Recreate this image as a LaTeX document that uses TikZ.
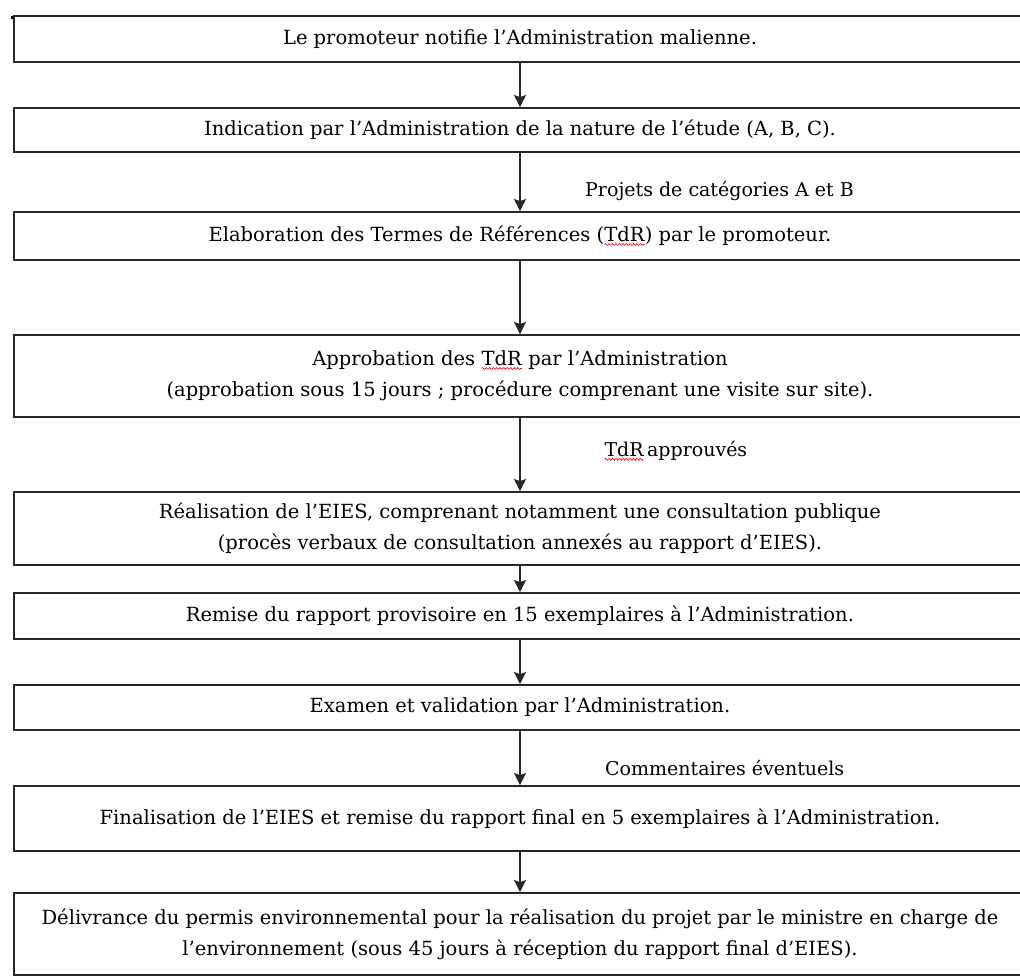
\documentclass[tikz,border=0pt]{standalone}
\usepackage{fontspec}
\setmainfont{DejaVu Serif}
\usetikzlibrary{arrows.meta,decorations.pathmorphing}
% abbreviation flagged with a red wavy underline
\newcommand\flagged[1]{\tikz[baseline=(fw.base)]{%
  \node[inner sep=0pt, outer sep=0pt, minimum width=0pt, minimum height=0pt, draw=none] (fw) {#1};
  \draw[red, line width=0.6pt, decorate, decoration={snake, amplitude=1pt, segment length=3.5pt}]
    ([yshift=-2.5pt]fw.south west) -- ([yshift=-2.5pt]fw.south east);}}
\begin{document}
\begin{tikzpicture}[x=1pt, y=-1pt,
  stepbox/.style={draw=black!85, line width=1.9pt, minimum width=1012pt, inner sep=0pt,
    align=center, text=black, font=\fontsize{19.5}{31}\selectfont},
  flow/.style={draw=black!85, line width=1.4pt, -{Stealth[length=12pt, width=12pt, inset=2pt]}},
  note/.style={anchor=west, inner sep=0pt, text=black, font=\fontsize{19}{22}\selectfont}]
\useasboundingbox (0,0) rectangle (1020,976);
\clip (0,0) rectangle (1020,976);

% process steps
\node[stepbox, minimum height=46pt] (s1) at (520,39)
  {Le promoteur notifie l’Administration malienne.};
\node[stepbox, minimum height=44pt] (s2) at (520,130)
  {Indication par l’Administration de la nature de l’étude (A, B, C).};
\node[stepbox, minimum height=48pt] (s3) at (520,236)
  {Elaboration des Termes de Références (\flagged{TdR}) par le promoteur.};
\node[stepbox, minimum height=82pt] (s4) at (520,376)
  {Approbation des \flagged{TdR} par l’Administration\\
   (approbation sous 15 jours ; procédure comprenant une visite sur site).};
\node[stepbox, minimum height=73pt] (s5) at (520,528.5)
  {Réalisation de l’EIES, comprenant notamment une consultation publique\\
   (procès verbaux de consultation annexés au rapport d’EIES).};
\node[stepbox, minimum height=46pt] (s6) at (520,616)
  {Remise du rapport provisoire en 15 exemplaires à l’Administration.};
\node[stepbox, minimum height=45pt] (s7) at (520,707.5)
  {Examen et validation par l’Administration.};
\node[stepbox, minimum height=65pt] (s8) at (520,818.5)
  {Finalisation de l’EIES et remise du rapport final en 5 exemplaires à l’Administration.};
\node[stepbox, minimum height=82pt] (s9) at (520,934)
  {Délivrance du permis environnemental pour la réalisation du projet par le ministre en charge de\\
   l’environnement (sous 45 jours à réception du rapport final d’EIES).};

% small mark at the top-left corner
\fill[black] (10.5,16) rectangle (13.5,19.5);

% connectors
\draw[flow] (s1) -- (s2);
\draw[flow] (s2) -- (s3);
\draw[flow] (s3) -- (s4);
\draw[flow] (s4) -- (s5);
\draw[flow] (s5) -- (s6);
\draw[flow] (s6) -- (s7);
\draw[flow] (s7) -- (s8);
\draw[flow] (s8) -- (s9);

% connector annotations
\node[note] (n1) at (585,191) {Projets de catégories A et B};
\node[note] (n2) at (604,451) {\flagged{TdR}\,approuvés};
\node[note] (n3) at (605,768) {Commentaires éventuels};
\end{tikzpicture}
\end{document}
